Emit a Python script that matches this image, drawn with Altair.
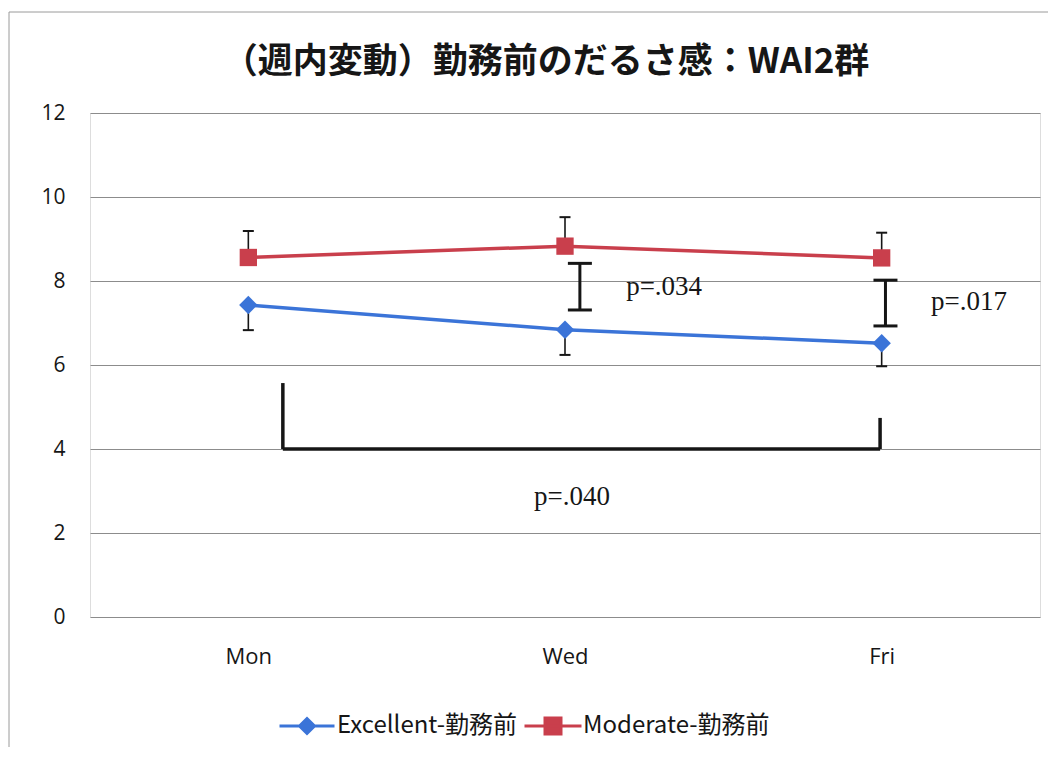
import json
import altair as alt
import pandas as pd

# ---------------- data ----------------
days = ["Mon", "Wed", "Fri"]
day_pos = [0, 1, 2]

excellent_name = "Excellent-勤務前"
excellent = [7.43, 6.84, 6.52]
excellent_low = [6.83, 6.24, 5.97]

moderate_name = "Moderate-勤務前"
moderate = [8.56, 8.83, 8.55]
moderate_high = [9.19, 9.52, 9.15]

# significance markers between groups (Wed, Fri)
sig_x = [1.047, 2.012]
sig_low = [7.31, 6.93]
sig_high = [8.42, 8.02]
sig_text_x = [1.313, 2.276]
sig_text_y = [7.86, 7.50]
sig_text = ["p=.034", "p=.017"]

# Mon vs Fri bracket (Excellent)
br_x = [0.109, 1.995]
br_top = [5.57, 4.74]
br_base = [4.0, 4.0]
br_text = ["p=.040"]
br_text_x = [1.022]
br_text_y = [2.85]

y_ticks = [0, 2, 4, 6, 8, 10, 12]

title_text = "（週内変動）勤務前のだるさ感：WAI2群"

# ---------------- styling ----------------
BLUE = "#3b74d8"
RED = "#c93f4c"
INK = "#161616"
SANS = "Open Sans"
CJK = "Noto Sans CJK JP"
SERIF = "Liberation Serif"

xscale = alt.Scale(domain=[-0.5, 2.5], nice=False, zero=False)
yscale = alt.Scale(domain=[0, 12], nice=False, zero=True)
xaxis = alt.Axis(values=day_pos, labelExpr=f"{json.dumps(days)}[datum.value]",
                 title=None, grid=False, domain=False, ticks=False,
                 labelFontSize=22, labelFont=SANS, labelColor=INK, labelPadding=29)
yaxis = alt.Axis(values=y_ticks, title=None, grid=True, domain=False, ticks=False,
                 gridColor="#8c8c8c", gridWidth=1,
                 labelFontSize=21, labelFont=SANS, labelColor=INK, labelPadding=25)


def X(field):
    return alt.X(field, type="quantitative", scale=xscale, axis=xaxis)


def Y(field):
    return alt.Y(field, type="quantitative", scale=yscale, axis=yaxis)


def series_layer(name, means, bounds, color, shape, size, sym_path, legend_x):
    df = pd.DataFrame({"pos": day_pos, "mean": means, "bound": bounds,
                       "series": [name] * len(day_pos)})
    base = alt.Chart(df)
    line = base.mark_line(strokeWidth=3.5).encode(
        x=X("pos"), y=Y("mean"),
        color=alt.Color("series:N", scale=alt.Scale(domain=[name], range=[color]),
                        legend=alt.Legend(title=None, orient="none",
                                          legendX=legend_x, legendY=601,
                                          symbolType=sym_path, symbolSize=100,
                                          symbolStrokeWidth=3,
                                          symbolFillColor=color,
                                          symbolStrokeColor=color,
                                          symbolOpacity=1,
                                          labelFont=CJK, labelFontSize=24,
                                          labelColor=INK, labelOffset=18,
                                          padding=0, labelLimit=400)),
    )
    err = base.mark_rule(color=INK, strokeWidth=1.6).encode(
        x=X("pos"), y=Y("mean"), y2="bound")
    cap = base.mark_tick(orient="horizontal", size=11, thickness=2,
                         color=INK, opacity=1).encode(x=X("pos"), y=Y("bound"))
    pts = base.mark_point(filled=True, shape=shape, size=size, opacity=1,
                          color=color).encode(x=X("pos"), y=Y("mean"))
    return alt.layer(line, err, cap, pts)


excellent_layer = series_layer(
    excellent_name, excellent, excellent_low, BLUE, "diamond", 340,
    "M-5.5,0H5.5M-1.5,0L0,-1.5L1.5,0L0,1.5Z", 205)
moderate_layer = series_layer(
    moderate_name, moderate, moderate_high, RED, "square", 300,
    "M-5.7,0H5.7M-1.6,-1.6H1.6V1.6H-1.6Z", 451)

# significance brackets
sig_df = pd.DataFrame({"x": sig_x, "lo": sig_low, "hi": sig_high})
sig_rule = alt.Chart(sig_df).mark_rule(color=INK, strokeWidth=3).encode(
    x=X("x"), y=Y("lo"), y2="hi")
sig_cap_lo = alt.Chart(sig_df).mark_tick(orient="horizontal", size=24, thickness=3,
                                         color=INK, opacity=1).encode(x=X("x"), y=Y("lo"))
sig_cap_hi = alt.Chart(sig_df).mark_tick(orient="horizontal", size=24, thickness=3,
                                         color=INK, opacity=1).encode(x=X("x"), y=Y("hi"))
sig_lab_df = pd.DataFrame({"x": sig_text_x, "y": sig_text_y, "t": sig_text})
sig_lab = alt.Chart(sig_lab_df).mark_text(font=SERIF, fontSize=27, color=INK,
                                          baseline="middle", align="center").encode(
    x=X("x"), y=Y("y"), text="t:N")

br_v_df = pd.DataFrame({"x": br_x, "base": br_base, "top": br_top})
br_v = alt.Chart(br_v_df).mark_rule(color=INK, strokeWidth=3.5).encode(
    x=X("x"), y=Y("base"), y2="top")
br_h_df = pd.DataFrame({"x1": [br_x[0]], "x2": [br_x[1]], "y": [br_base[0]]})
br_h = alt.Chart(br_h_df).mark_rule(color=INK, strokeWidth=3.5).encode(
    x=X("x1"), x2="x2", y=Y("y"))
br_lab_df = pd.DataFrame({"x": br_text_x, "y": br_text_y, "t": br_text})
br_lab = alt.Chart(br_lab_df).mark_text(font=SERIF, fontSize=27, color=INK,
                                        baseline="middle", align="center").encode(
    x=X("x"), y=Y("y"), text="t:N")

# outer chart frame (decoration)
frame = alt.Chart(pd.DataFrame({"k": [0]})).mark_rect(
    fill=None, stroke="#9a9a9a", strokeWidth=1).encode(
    x=alt.value(-81), x2=alt.value(975), y=alt.value(-101), y2=alt.value(660))

# chart title, drawn as a text mark above the plot area
title = alt.Chart(pd.DataFrame({"t": [title_text]})).mark_text(
    font=CJK, fontSize=35, fontWeight="bold", color=INK,
    align="center", baseline="middle").encode(
    x=alt.value(456), y=alt.value(-51), text="t:N")

chart = alt.layer(
    frame, title, excellent_layer, moderate_layer,
    sig_rule, sig_cap_lo, sig_cap_hi, sig_lab, br_v, br_h, br_lab,
).resolve_scale(color="independent").resolve_legend(color="independent").properties(
    width=950, height=504,
    autosize=alt.AutoSizeParams(type="none"),
    padding={"left": 82, "top": 105, "right": 8, "bottom": 130},
).configure_view(stroke=None).configure(background="white")

chart.save("out.html", embed_options={"renderer": "svg", "actions": False})
